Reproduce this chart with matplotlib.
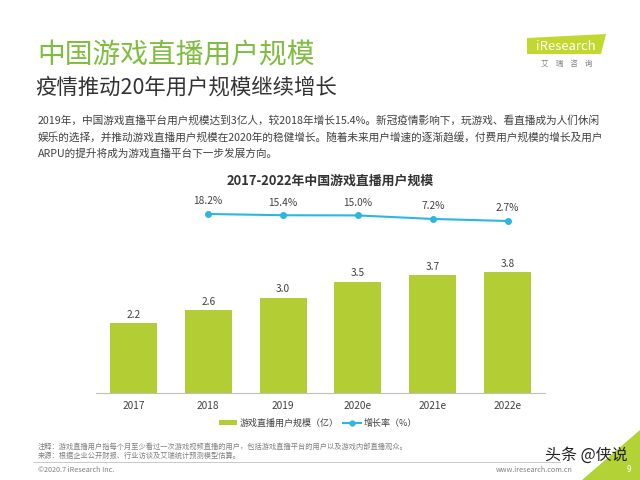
import matplotlib
matplotlib.use("Agg")
import matplotlib.pyplot as plt
from matplotlib.patches import Polygon, Patch, Circle
from matplotlib.lines import Line2D

plt.rcParams['font.family'] = ['Noto Sans CJK SC', 'DejaVu Sans']

categories = ['2017', '2018', '2019', '2020e', '2021e', '2022e']
users = [2.2, 2.6, 3.0, 3.5, 3.7, 3.8]
growth_cats = ['2018', '2019', '2020e', '2021e', '2022e']
growth = [18.2, 15.4, 15.0, 7.2, 2.7]

BAR_C = '#B2CE34'
LINE_C = '#2DB6E2'
TITLE_C = '#7EBD3E'
TXT = '#404040'

W, H = 640, 480
fig = plt.figure(figsize=(6.4, 4.8), dpi=100)

def fx(x):
    return x / W

def fy(y):
    return 1 - y / H

# headings
fig.text(fx(37), fy(55), '中国游戏直播用户规模', fontsize=20, color=TITLE_C, va='center', ha='left',
         fontweight='light')
fig.text(fx(35), fy(88), '疫情推动20年用户规模继续增长', fontsize=15.4, color='#333333', va='center', ha='left',
         fontweight='light')
para = ['2019年，中国游戏直播平台用户规模达到3亿人，较2018年增长15.4%。新冠疫情影响下，玩游戏、看直播成为人们休闲',
        '娱乐的选择，并推动游戏直播用户规模在2020年的稳健增长。随着未来用户增速的逐渐趋缓，付费用户规模的增长及用户',
        'ARPU的提升将成为游戏直播平台下一步发展方向。']
for i, line in enumerate(para):
    fig.text(fx(38), fy(120 + 17 * i), line, fontsize=7.7, color=TXT, va='center', ha='left')

# logo
logo = Polygon([[fx(527), fy(38)], [fx(606), fy(34)], [fx(601), fy(54)], [fx(527), fy(54)]],
               closed=True, transform=fig.transFigure, facecolor='#C3D82E', edgecolor='none')
fig.patches.append(logo)
fig.text(fx(566), fy(46.5), 'iResearch', fontsize=9.5, color='white', va='center', ha='center')
fig.text(fx(567), fy(64), '艾    瑞    咨    询', fontsize=5.5, color='#808080', va='center', ha='center')

# chart
ax_l, ax_r, ax_b, ax_t = 96, 545, 393, 200
ax = fig.add_axes([fx(ax_l), fy(ax_b), fx(ax_r - ax_l), (ax_b - ax_t) / H])
x = list(range(len(categories)))
ax.bar(x, users, width=0.63, color=BAR_C, zorder=2)
ax.set_xlim(-0.5, len(categories) - 0.5)
px_per_unit = 31.8
ax.set_ylim(0, (ax_b - ax_t) / px_per_unit)
for xi, v in zip(x, users):
    ax.annotate(f'{v:.1f}', (xi, v), xytext=(0, 2.5), textcoords='offset points',
                ha='center', va='bottom', fontsize=7.3, color=TXT)
ax.set_xticks(x)
ax.set_xticklabels(categories, fontsize=7.3, color=TXT)
ax.tick_params(axis='x', length=0, pad=6)
ax.set_yticks([])
for s in ['top', 'right', 'left']:
    ax.spines[s].set_visible(False)
ax.spines['bottom'].set_color('#BFBFBF')
ax.spines['bottom'].set_linewidth(0.8)

ax2 = ax.twinx()
gx = [categories.index(c) for c in growth_cats]
ax2.plot(gx, growth, color=LINE_C, lw=1.5, marker='o', ms=4, zorder=3)
pp = 0.4516
zero_from_bottom = ax_b - 222.2
ax2.set_ylim(-zero_from_bottom / pp, (ax_b - ax_t - zero_from_bottom) / pp)
ax2.set_yticks([])
for s in ['top', 'right', 'left', 'bottom']:
    ax2.spines[s].set_visible(False)
for xi, v in zip(gx, growth):
    ax2.annotate(f'{v:.1f}%', (xi, v), xytext=(0, 5.5), textcoords='offset points',
                 ha='center', va='bottom', fontsize=7.3, color=TXT)

fig.text(fx(330), fy(181), '2017-2022年中国游戏直播用户规模', fontsize=9.3, fontweight='bold',
         color='#333333', ha='center', va='center')

handles = [Patch(facecolor=BAR_C, edgecolor='none'),
           Line2D([0], [0], color=LINE_C, lw=1.5, marker='o', ms=3.5)]
fig.legend(handles, ['游戏直播用户规模（亿）', '增长率（%）'], loc='center',
           bbox_to_anchor=(fx(318), fy(423)), ncol=2, frameon=False, fontsize=6.5,
           labelcolor=TXT, handlelength=2.0, handleheight=0.6, columnspacing=0.5, handletextpad=0.3)

# footnotes
fig.text(fx(38), fy(447), '注释：游戏直播用户指每个月至少看过一次游戏视频直播的用户，包括游戏直播平台的用户以及游戏内部直播观众。',
         fontsize=5.2, color='#7F7F7F', va='center', ha='left')
fig.text(fx(38), fy(456), '来源：根据企业公开财报、行业访谈及艾瑞统计预测模型估算。',
         fontsize=5.2, color='#7F7F7F', va='center', ha='left')
fig.add_artist(Line2D([fx(33), fx(560)], [fy(462), fy(462)], color='#BFBFBF', lw=0.6))
fig.text(fx(38), fy(470), '©2020.7 iResearch Inc.', fontsize=5.2, color='#7F7F7F', va='center', ha='left')
fig.text(fx(573), fy(470), 'www.iresearch.com.cn', fontsize=5.2, color='#7F7F7F', va='center', ha='right')
tri = Polygon([[fx(640), fy(430)], [fx(640), fy(480)], [fx(582), fy(480)]], closed=True,
              transform=fig.transFigure, facecolor='#B2D235', edgecolor='none')
fig.patches.append(tri)
fig.text(fx(629), fy(470), '9', fontsize=6, color='white', va='center', ha='center')
fig.text(fx(586), fy(455), '头条 @侠说', fontsize=11.5, color='#222222', va='center', ha='center')

fig.savefig('out.png', dpi=100)
